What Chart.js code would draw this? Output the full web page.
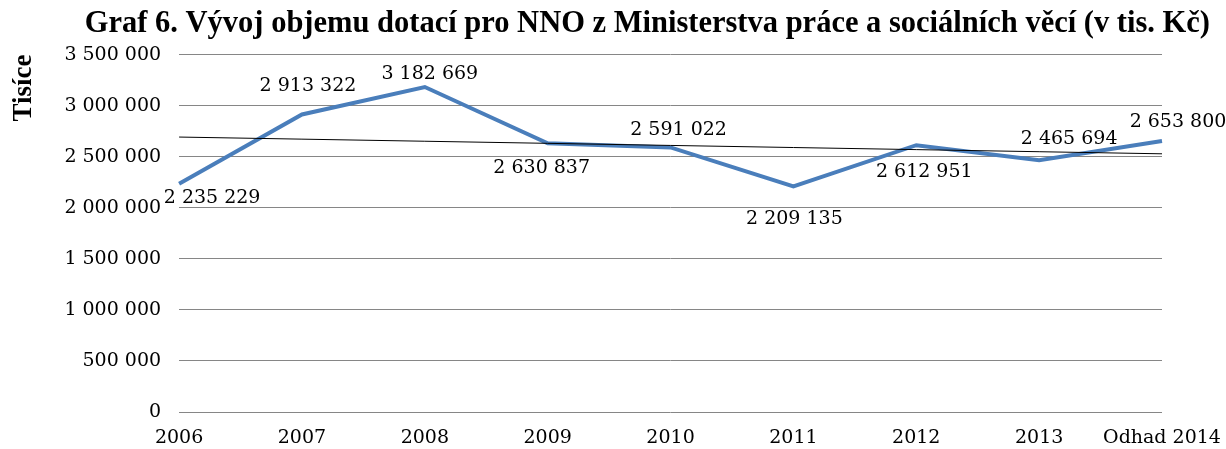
<!DOCTYPE html>
<html>
<head>
<meta charset="utf-8">
<script src="https://cdn.jsdelivr.net/npm/chart.js@4.4.1/dist/chart.umd.min.js"></script>
<style>
	html, body { margin: 0; padding: 0; background: #fff; }
	#wrap { width: 1226px; height: 449px; }
</style>
</head>
<body>
<div id="wrap"><canvas id="myChart" width="1226" height="449"></canvas></div>
<script>
// data from the graph (v tis. Kč)
var roky = ['2006', '2007', '2008', '2009', '2010', '2011', '2012', '2013', 'Odhad 2014'];
var dotace = [2235229, 2913322, 3182669, 2630837, 2591022, 2209135, 2612951, 2465694, 2653800];
var osaY = [0, 500000, 1000000, 1500000, 2000000, 2500000, 3000000, 3500000];

// where each value label sits relative to its point (dx, dy)
var posunPopisku = [[33, 14], [6, -28], [5, -13], [-6, 25], [8, -17], [1, 33], [8, 27], [30, -21], [16, -19]];

function cislo(v) {
	return String(Math.round(v)).replace(/\B(?=(\d{3})+(?!\d))/g, ' ');
}

// linear trend line (like Excel's trendline)
function trend(values) {
	var n = values.length, sx = 0, sy = 0, sxy = 0, sxx = 0;
	for (var i = 0; i < n; i++) {
		sx += i; sy += values[i]; sxy += i * values[i]; sxx += i * i;
	}
	var b = (n * sxy - sx * sy) / (n * sxx - sx * sx);
	var a = (sy - b * sx) / n;
	return values.map(function(v, i) { return a + b * i; });
}

var popisky = {
	id: 'popisky',
	afterDatasetsDraw: function(chart) {
		var ctx = chart.ctx;
		var meta = chart.getDatasetMeta(0);
		ctx.save();
		ctx.font = '19px "DejaVu Serif"';
		ctx.fillStyle = '#000';
		ctx.textAlign = 'center';
		ctx.textBaseline = 'middle';
		meta.data.forEach(function(pt, i) {
			ctx.fillText(cislo(dotace[i]), pt.x + posunPopisku[i][0], pt.y + posunPopisku[i][1]);
		});
		ctx.restore();
	}
};

var ctx = document.getElementById('myChart').getContext('2d');
var chart = new Chart(ctx, {
	type: 'line',
	data: {
		labels: roky,
		datasets: [{
			label: 'Dotace MPSV',
			data: dotace,
			borderColor: '#4A7EBB',
			borderWidth: 4,
			pointRadius: 0,
			tension: 0,
			order: 1
		}, {
			label: 'Trend',
			data: trend(dotace),
			borderColor: '#000',
			borderWidth: 1,
			pointRadius: 0,
			order: 0
		}]
	},
	options: {
		responsive: false,
		animation: false,
		devicePixelRatio: 1,
		layout: { padding: { left: 8, right: 16, top: 0, bottom: 0 } },
		plugins: {
			legend: { display: false },
			tooltip: { enabled: false },
			title: {
				display: true,
				align: 'end',
				text: 'Graf 6. Vývoj objemu dotací pro NNO z Ministerstva práce a sociálních věcí (v tis. Kč)',
				color: '#000',
				font: { family: '"Liberation Serif"', size: 30.5, weight: 'bold' },
				padding: { top: 6, bottom: 12 }
			}
		},
		scales: {
			x: {
				offset: false,
				grid: { display: false, drawTicks: false },
				border: { display: false },
				afterFit: function(scale) {
					scale.paddingRight = 64;
					scale.height = 37;
				},
				ticks: {
					color: '#000',
					font: { family: '"DejaVu Serif"', size: 19 },
					maxRotation: 0,
					autoSkip: false,
					padding: 15
				}
			},
			y: {
				min: 0,
				max: 3500000,
				afterBuildTicks: function(axis) {
					axis.ticks = osaY.map(function(v) { return { value: v }; });
				},
				grid: { color: '#868686', drawTicks: false },
				border: { display: false },
				ticks: {
					color: '#000',
					font: { family: '"DejaVu Serif"', size: 19 },
					padding: 18,
					callback: function(v) { return cislo(v); }
				},
				title: {
					display: true,
					text: 'Tisíce',
					align: 'end',
					color: '#000',
					font: { family: '"Liberation Serif"', size: 27, weight: 'bold' },
					padding: { top: 0, bottom: 6 }
				}
			}
		}
	},
	plugins: [popisky]
});
</script>
</body>
</html>
